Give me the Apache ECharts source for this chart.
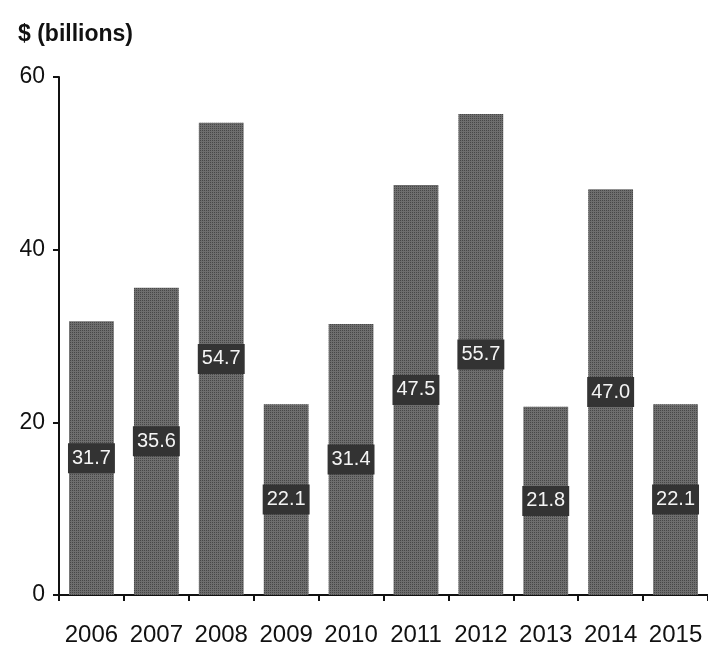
<!DOCTYPE html>
<html>
<head>
<meta charset="utf-8">
<script src="https://cdn.jsdelivr.net/npm/echarts@6/dist/echarts.min.js"></script>
<style>html,body{margin:0;padding:0;background:#fff;}#c{width:708px;height:649px;}</style>
</head>
<body>
<div id="c"></div>
<script>
var years = ['2006','2007','2008','2009','2010','2011','2012','2013','2014','2015'];
var values = [31.7, 35.6, 54.7, 22.1, 31.4, 47.5, 55.7, 21.8, 47.0, 22.1];
var yTicks = [0, 20, 40, 60];
var titleText = '$ (billions)';

var chart = echarts.init(document.getElementById('c'));
chart.setOption({
  animation: false,
  backgroundColor: '#ffffff',
  title: {
    text: titleText, left: 13, top: 18,
    textStyle: {fontFamily: 'Liberation Sans, Arial', fontSize: 23, fontWeight: 'bold', color: '#111'}
  },
  grid: {left: 59, top: 77, bottom: 54, width: 658},
  xAxis: {
    type: 'category', data: years,
    axisLine: {lineStyle: {color: '#111', width: 2}},
    axisTick: {show: true, interval: 0, length: 6, lineStyle: {color: '#111', width: 2}},
    axisLabel: {interval: 0, fontFamily: 'Liberation Sans, Arial', fontSize: 24, color: '#111', margin: 28}
  },
  yAxis: {
    type: 'value', min: yTicks[0], max: yTicks[yTicks.length - 1], interval: 20,
    splitLine: {show: false},
    axisLine: {show: true, lineStyle: {color: '#111', width: 2}},
    axisTick: {show: true, length: 6, lineStyle: {color: '#111', width: 2}},
    axisLabel: {fontFamily: 'Liberation Sans, Arial', fontSize: 23, color: '#111', margin: 14}
  },
  series: [{
    type: 'bar', data: values, barCategoryGap: '31%',
    itemStyle: {
      color: '#6e6e6e',
      decal: {symbol: 'rect', symbolSize: 1, dashArrayX: [1, 1], dashArrayY: [1, 1], color: 'rgba(0,0,0,0.35)', rotation: 0}
    },
    label: {
      show: true, position: 'inside',
      formatter: function (p) { return p.value.toFixed(1); },
      color: '#f4f4f4', backgroundColor: '#333333',
      fontFamily: 'Liberation Sans, Arial', fontSize: 20,
      padding: [5, 4, 5, 4]
    }
  }]
});
</script>
</body>
</html>
